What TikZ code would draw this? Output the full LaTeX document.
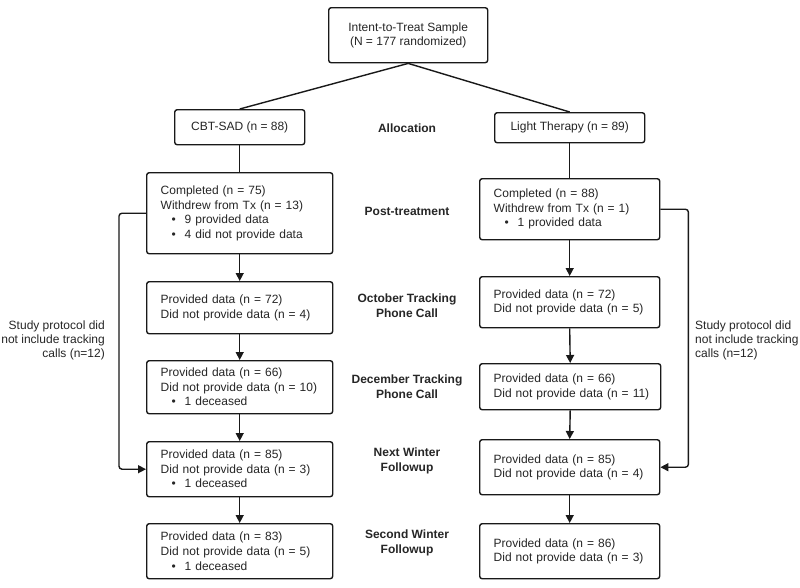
\documentclass[tikz,border=0pt]{standalone}
\usepackage{fontspec}
\setmainfont{Liberation Sans}
\usetikzlibrary{arrows.meta}
\newcommand{\bul}{\hspace*{11pt}\makebox[13pt][l]{\textbullet}}
\begin{document}
\begin{tikzpicture}[x=1pt,y=-1pt,
  every node/.style={font=\fontsize{12}{14.5}\selectfont, text=black!85},
  box/.style={draw=black!90, line width=1.4pt, rounded corners=2.5pt, anchor=north west, inner ysep=0pt, inner xsep=14pt, align=left},
  cbox/.style={draw=black!90, line width=1.4pt, rounded corners=2.5pt, anchor=north west, inner sep=0pt, align=center},
  phase/.style={font=\fontsize{12}{15}\selectfont\bfseries, align=center},
  note/.style={font=\fontsize{12}{14}\selectfont},
  link/.style={draw=black!90, line width=1.4pt},
  arr/.style={link, -{Triangle[length=8pt,width=8pt]}}
]
\useasboundingbox[fill=white] (0,0) rectangle (800,587);

% top
\node[cbox, minimum width=159pt, minimum height=55pt] (top) at (328,7) {Intent-to-Treat Sample\\(N = 177 randomized)};
\node[cbox, minimum width=130pt, minimum height=35pt] (cbt) at (174,109) {CBT-SAD (n = 88)};
\node[cbox, minimum width=150pt, minimum height=30pt] (lt) at (494,112) {Light Therapy (n = 89)};

% CBT column
\node[box, text width=158pt, minimum height=81pt] (cpost) at (146,172) {Completed (n = 75)\\Withdrew from Tx (n = 13)\\\bul 9 provided data\\\bul 4 did not provide data};
\node[box, text width=158pt, minimum height=52pt] (coct) at (146,281) {Provided data (n = 72)\\Did not provide data (n = 4)};
\node[box, text width=158pt, minimum height=53pt] (cdec) at (146,360) {Provided data (n = 66)\\\mbox{Did not provide data (n = 10)}\\\bul 1 deceased};
\node[box, text width=158pt, minimum height=55pt] (cnw) at (146,441) {Provided data (n = 85)\\Did not provide data (n = 3)\\\bul 1 deceased};
\node[box, text width=158pt, minimum height=55pt] (csw) at (146,523) {Provided data (n = 83)\\Did not provide data (n = 5)\\\bul 1 deceased};

% LT column
\node[box, text width=152pt, minimum height=61pt] (lpost) at (479,178) {Completed (n = 88)\\Withdrew from Tx (n = 1)\\\bul 1 provided data};
\node[box, text width=152pt, minimum height=51pt] (loct) at (479,276) {Provided data (n = 72)\\Did not provide data (n = 5)};
\node[box, text width=153pt, minimum height=46pt] (ldec) at (479,363) {Provided data (n = 66)\\\mbox{Did not provide data (n = 11)}};
\node[box, text width=152pt, minimum height=55pt] (lnw) at (479,439) {Provided data (n = 85)\\Did not provide data (n = 4)};
\node[box, text width=152pt, minimum height=55pt] (lsw) at (479,523) {Provided data (n = 86)\\Did not provide data (n = 3)};

% phase labels
\node[phase] (pa) at (407,128) {Allocation};
\node[phase] (pp) at (407,211) {Post-treatment};
\node[phase] (po) at (407,305.5) {October Tracking\\Phone Call};
\node[phase] (pd) at (407,386.5) {December Tracking\\Phone Call};
\node[phase] (pn) at (407,460.5) {Next Winter\\Followup};
\node[phase] (ps) at (407,542.5) {Second Winter\\Followup};

% notes
\node[note, align=right, anchor=east, inner sep=0pt] (nl) at (105,340) {Study protocol did\\not include tracking\\calls (n=12)};
\node[note, align=left, anchor=west, inner sep=0pt] (nr) at (695,340) {Study protocol did\\not include tracking\\calls (n=12)};

% connectors
\draw[link] (top.south) -- (cbt.north);
\draw[link] (top.south) -- (lt.north);
\draw[link] (cbt.south) -- (cpost.north);
\draw[link] (lt.south) -- (lpost.north);
\draw[arr] (cpost.south) -- (coct.north);
\draw[arr] (coct.south) -- (cdec.north);
\draw[arr] (cdec.south) -- (cnw.north);
\draw[arr] (cnw.south) -- (csw.north);
\draw[arr] (lpost.south) -- (loct.north);
\draw[arr] (loct.south) -- (ldec.north);
\draw[arr] (ldec.south) -- (lnw.north);
\draw[arr] (lnw.south) -- (lsw.north);
\draw[arr, rounded corners=3pt] (cpost.west) -- ++(-27,0) |- (cnw.west);
\draw[arr, rounded corners=3pt] (lpost.east) -- ++(28,0) |- (lnw.east);
\end{tikzpicture}
\end{document}
